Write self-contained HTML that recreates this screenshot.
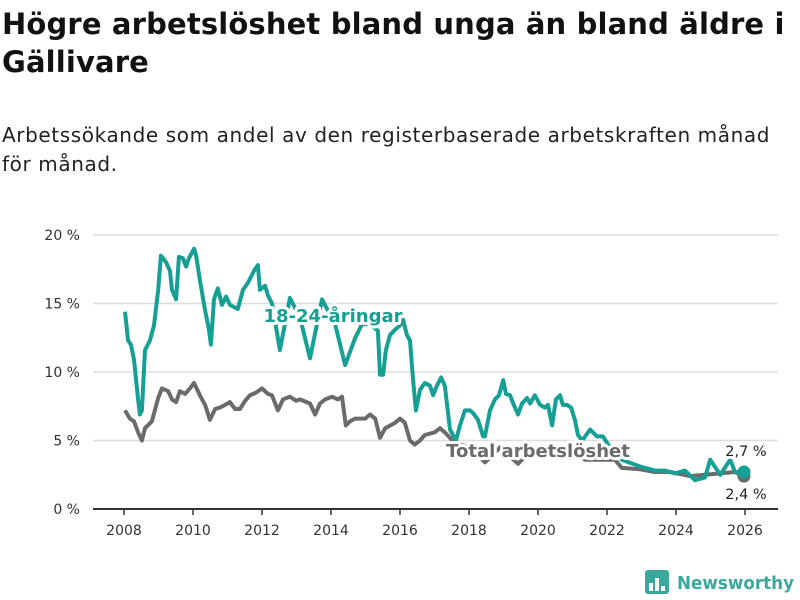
<!DOCTYPE html>
<html><head><meta charset="utf-8">
<style>
body{margin:0;background:#fff;width:800px;height:600px;overflow:hidden;font-family:"DejaVu Sans","Liberation Sans",sans-serif;}
#title{position:absolute;left:2px;top:5px;font-size:29px;font-weight:bold;line-height:38px;color:#111;width:795px;letter-spacing:0.15px}
#sub{position:absolute;left:2px;top:121px;font-size:20px;line-height:29px;color:#222;width:790px;letter-spacing:0.6px}
svg{position:absolute;left:0;top:0;font-family:"DejaVu Sans","Liberation Sans",sans-serif}
</style></head><body>
<div id="title">Högre arbetslöshet bland unga än bland äldre i Gällivare</div>
<div id="sub">Arbetssökande som andel av den registerbaserade arbetskraften månad för månad.</div>
<svg id="chart" width="800" height="600"></svg>
<script>
const yTicks=[0,5,10,15,20];
const yTickLabels=["0 %","5 %","10 %","15 %","20 %"];
const xTicks=[2008,2010,2012,2014,2016,2018,2020,2022,2024,2026];
const youthYears=[2008.03,2008.12,2008.2,2008.29,2008.41,2008.46,2008.52,2008.61,2008.75,2008.87,2008.99,2009.07,2009.22,2009.33,2009.39,2009.51,2009.59,2009.71,2009.8,2009.88,2010.03,2010.09,2010.2,2010.35,2010.46,2010.52,2010.61,2010.72,2010.84,2010.96,2011.07,2011.22,2011.3,2011.45,2011.59,2011.77,2011.88,2011.94,2012.09,2012.17,2012.29,2012.52,2012.81,2013.1,2013.39,2013.74,2014.12,2014.41,2014.7,2014.9,2015.13,2015.36,2015.42,2015.51,2015.59,2015.71,2015.86,2016.0,2016.09,2016.2,2016.29,2016.38,2016.46,2016.58,2016.72,2016.87,2016.96,2017.07,2017.19,2017.3,2017.45,2017.62,2017.74,2017.88,2018.03,2018.12,2018.26,2018.41,2018.46,2018.61,2018.75,2018.87,2018.99,2019.07,2019.19,2019.28,2019.42,2019.54,2019.68,2019.77,2019.91,2020.06,2020.2,2020.29,2020.41,2020.52,2020.64,2020.72,2020.84,2020.96,2021.07,2021.16,2021.28,2021.51,2021.71,2021.88,2022.14,2022.43,2022.96,2023.39,2023.68,2023.97,2024.26,2024.55,2024.84,2024.99,2025.28,2025.57,2025.71,2025.97];
const youthValues=[14.4,12.3,12.0,10.9,8.0,6.9,7.2,11.6,12.3,13.4,16.0,18.5,18.0,17.4,16.0,15.3,18.4,18.3,17.7,18.3,19.0,18.5,16.7,14.5,13.1,12.0,15.3,16.1,14.9,15.5,14.9,14.7,14.6,16.0,16.5,17.4,17.8,16.0,16.3,15.6,15.0,11.6,15.4,14.0,11.0,15.3,13.5,10.5,12.5,13.5,13.5,13.0,9.8,9.8,11.6,12.7,13.1,13.4,13.8,12.7,12.3,9.4,7.2,8.7,9.2,9.0,8.3,9.0,9.6,9.0,5.8,5.0,6.1,7.2,7.2,7.0,6.5,5.3,5.3,7.2,8.0,8.3,9.4,8.4,8.3,7.7,6.9,7.7,8.1,7.7,8.3,7.6,7.4,7.6,6.1,8.0,8.3,7.6,7.6,7.4,6.5,5.4,5.0,5.8,5.3,5.3,4.3,3.6,3.1,2.8,2.8,2.6,2.8,2.1,2.3,3.6,2.5,3.6,2.7,2.7];
const totalYears=[2008.03,2008.17,2008.29,2008.41,2008.52,2008.61,2008.81,2008.99,2009.1,2009.28,2009.39,2009.51,2009.62,2009.77,2009.91,2010.03,2010.2,2010.35,2010.49,2010.64,2010.78,2010.93,2011.07,2011.22,2011.36,2011.51,2011.65,2011.83,2012.0,2012.17,2012.29,2012.46,2012.61,2012.81,2012.99,2013.1,2013.39,2013.54,2013.68,2013.83,2014.03,2014.2,2014.32,2014.43,2014.55,2014.7,2014.99,2015.13,2015.28,2015.42,2015.57,2015.86,2016.0,2016.14,2016.29,2016.43,2016.58,2016.72,2017.01,2017.16,2017.3,2017.59,2018.03,2018.46,2018.9,2019.42,2019.77,2020.2,2020.64,2021.07,2021.36,2021.8,2022.23,2022.43,2022.96,2023.39,2023.83,2024.41,2024.84,2025.28,2025.71,2025.97];
const totalValues=[7.2,6.6,6.4,5.6,5.0,5.9,6.4,8.1,8.8,8.6,8.0,7.8,8.6,8.4,8.8,9.2,8.3,7.6,6.5,7.3,7.4,7.6,7.8,7.3,7.3,7.9,8.3,8.5,8.8,8.4,8.3,7.2,8.0,8.2,7.9,8.0,7.7,6.9,7.7,8.0,8.2,8.0,8.2,6.1,6.4,6.6,6.6,6.9,6.6,5.2,5.9,6.3,6.6,6.3,5.0,4.7,5.0,5.4,5.6,5.9,5.6,4.8,4.5,3.4,4.5,3.3,4.2,4.3,4.1,4.3,3.6,3.6,3.6,3.0,2.9,2.7,2.7,2.4,2.5,2.6,2.7,2.4];
const lastLabels=["2,7 %","2,4 %"];

const svg=document.getElementById('chart');
const NS="http://www.w3.org/2000/svg";
const X0=93,X1=778;
const xS=y=>124+(y-2008)*(745-124)/18;
const yS=v=>509-v*(509-235)/20;
function mk(t,a,p){const e=document.createElementNS(NS,t);for(const k in a)e.setAttribute(k,a[k]);(p||svg).appendChild(e);return e;}

yTicks.forEach((v,i)=>{
  const g=mk('line',{x1:X0,x2:X1,y1:yS(v),y2:yS(v),stroke:v===0?'#333':'#ddd','stroke-width':v===0?2:1.5});
  
  
  const t=mk('text',{x:80,y:yS(v)+5,'text-anchor':'end','font-size':14,fill:'#333'});
  t.textContent=yTickLabels[i];
  
  
});
xTicks.forEach(y=>{
  const l=mk('line',{x1:xS(y),x2:xS(y),y1:509,y2:515,stroke:'#333','stroke-width':1.5});
  
  
  const t=mk('text',{x:xS(y),y:535,'text-anchor':'middle','font-size':14,fill:'#333'});
  t.textContent=y;
  
  
});
function line(xs,vs,col,name){
  const d=xs.map((x,i)=>(i?'L':'M')+xS(x).toFixed(1)+' '+yS(vs[i]).toFixed(1)).join(' ');
  const p=mk('path',{d:d,fill:'none',stroke:col,'stroke-width':4,'stroke-linejoin':'round'});
  
  
  const c=mk('circle',{cx:xS(xs[xs.length-1]),cy:yS(vs[vs.length-1]),r:6.5,fill:col});
  
  
}
line(totalYears,totalValues,'#6b6b6b','total-line');
line(youthYears,youthValues,'#159f95','youth-line');
function lbl(txt,x,y,col,name,anchor,weight,size,halo){
  const t=mk('text',{x:x,y:y,'text-anchor':anchor,'font-size':size,'font-weight':weight,fill:col,stroke:halo?'#fff':'none','stroke-width':halo?6:0,'paint-order':'stroke','stroke-linejoin':'round'});
  t.textContent=txt;
  
  
}
lbl('18-24-åringar',333,322,'#159f95','youth-series-label','middle','bold',18,true);
lbl('Total arbetslöshet',538,457,'#6b6b6b','total-series-label','middle','bold',18,true);
lbl(lastLabels[0],746,456,'#222','youth-last-value','middle','normal',14.5,true);
lbl(lastLabels[1],746,499,'#222','total-last-value','middle','normal',14.5,true);

const g=mk('g',{});


mk('rect',{x:645,y:570,width:24,height:24,rx:3,fill:'#3aa89c'},g);
[[649,583,4,8],[655,578,4,13],[661,586,4,5]].forEach(r=>mk('rect',{x:r[0],y:r[1],width:r[2],height:r[3],fill:'#fff'},g));
const lt=mk('text',{x:677,y:589,'font-size':18,'font-weight':'bold',fill:'#3aa89c',textLength:117,lengthAdjust:'spacingAndGlyphs'},g);
lt.textContent='Newsworthy';
</script>
</body></html>
